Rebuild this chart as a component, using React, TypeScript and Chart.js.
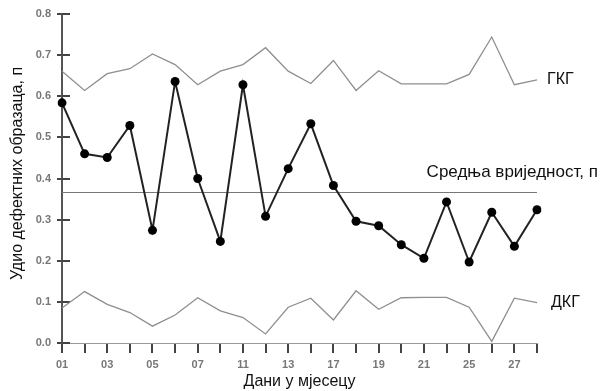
import React, { useEffect, useRef } from "react";
import { Chart, registerables } from "chart.js";

Chart.register(...registerables);

const days = ["01","02","03","04","05","06","07","10","11","12","13","14","17","18","19","20","21","24","25","26","27","28"];
const proportion = [0.584,0.46,0.451,0.529,0.274,0.636,0.40,0.247,0.628,0.308,0.424,0.533,0.383,0.296,0.285,0.239,0.206,0.343,0.197,0.318,0.235,0.324];
const ucl = [0.661,0.614,0.655,0.667,0.703,0.677,0.628,0.661,0.677,0.718,0.661,0.631,0.687,0.614,0.662,0.630,0.630,0.630,0.653,0.744,0.628,0.640];
const lcl = [0.085,0.125,0.094,0.074,0.041,0.068,0.110,0.078,0.062,0.022,0.087,0.109,0.056,0.127,0.082,0.110,0.111,0.111,0.087,0.004,0.109,0.098];
const meanValue = 0.367;
const yTicks = [0, 0.1, 0.2, 0.3, 0.4, 0.5, 0.6, 0.7, 0.8];

const FONT = "Arial, 'Liberation Sans', sans-serif";

const overlay = {
  id: "overlay",
  beforeDatasetsDraw(chart: any) {
    const { ctx, chartArea, scales } = chart;
    const y = scales.y;
    ctx.save();
    const my = Math.round(y.getPixelForValue(meanValue)) + 0.5;
    ctx.strokeStyle = "#777";
    ctx.lineWidth = 1;
    ctx.beginPath();
    ctx.moveTo(chartArea.left, my);
    ctx.lineTo(chartArea.right, my);
    ctx.stroke();
    ctx.strokeStyle = "#444";
    ctx.lineWidth = 2;
    yTicks.forEach((v) => {
      const py = Math.round(y.getPixelForValue(v));
      ctx.beginPath();
      ctx.moveTo(chartArea.left, py);
      ctx.lineTo(chartArea.left + 8, py);
      ctx.stroke();
    });
    ctx.restore();
  },
  afterDraw(chart: any) {
    const { ctx, chartArea, scales } = chart;
    const y = scales.y;
    ctx.save();
    ctx.fillStyle = "#111";
    ctx.font = "16px " + FONT;
    ctx.textBaseline = "middle";
    ctx.textAlign = "left";
    ctx.fillText("ГКГ", chartArea.right + 10, y.getPixelForValue(ucl[ucl.length - 1]));
    ctx.fillText("ДКГ", chartArea.right + 14, y.getPixelForValue(lcl[lcl.length - 1]));
    ctx.textAlign = "right";
    ctx.font = "17px " + FONT;
    ctx.fillText("Средња вриједност, п", 598, y.getPixelForValue(meanValue) - 20);
    ctx.font = "16px " + FONT;
    ctx.translate(17.5, 173.5);
    ctx.rotate(-Math.PI / 2);
    ctx.textAlign = "center";
    ctx.fillText("Удио дефектних образаца, п", 0, 0);
    ctx.restore();
  },
};

export default function App() {
  const ref = useRef<HTMLCanvasElement>(null);
  useEffect(() => {
    if (!ref.current) return;
    const chart = new Chart(ref.current, {
      type: "line",
      data: {
        labels: days,
        datasets: [
          {
            label: "ГКГ",
            data: ucl,
            borderColor: "#8f8f8f",
            borderWidth: 1.3,
            pointRadius: 0,
            tension: 0,
          },
          {
            label: "ДКГ",
            data: lcl,
            borderColor: "#8f8f8f",
            borderWidth: 1.3,
            pointRadius: 0,
            tension: 0,
          },
          {
            label: "п",
            data: proportion,
            borderColor: "#222",
            borderWidth: 2,
            pointRadius: 4.5,
            pointBackgroundColor: "#000",
            pointBorderColor: "#000",
            pointBorderWidth: 0,
            tension: 0,
          },
        ],
      },
      options: {
        animation: false,
        responsive: false,
        maintainAspectRatio: false,
        layout: { padding: { left: 0, right: 64, top: 14, bottom: 0 } },
        plugins: { legend: { display: false }, tooltip: { enabled: false }, title: { display: false } },
        scales: {
          x: {
            type: "category",
            offset: false,
            afterFit: (s: any) => { s.height = 48; },
            border: { display: true, color: "#999", width: 1 },
            grid: { display: true, drawOnChartArea: false, drawTicks: true, tickLength: 10, color: "#444", lineWidth: 2 },
            ticks: {
              autoSkip: false,
              maxRotation: 0,
              padding: 5,
              color: "#777",
              font: { family: FONT, size: 11, weight: "bold" },
              callback: (_v: any, i: number) => (i % 2 === 0 ? days[i] : ""),
            },
            title: {
              display: true,
              text: "Дани у мјесецу",
              color: "#111",
              font: { family: FONT, size: 16 },
              padding: 0,
            },
          },
          y: {
            min: 0,
            max: 0.8,
            afterFit: (s: any) => { s.width = 62; },
            border: { display: true, color: "#555", width: 2 },
            grid: { display: true, drawOnChartArea: false, drawTicks: true, tickLength: 5, color: "#444", lineWidth: 2 },
            afterBuildTicks: (s: any) => { s.ticks = yTicks.map((v) => ({ value: v })); },
            ticks: {
              padding: 6,
              color: "#777",
              font: { family: FONT, size: 11, weight: "bold" },
              callback: (v: any) => Number(v).toFixed(1),
            },
            title: { display: false },
          },
        },
      },
      plugins: [overlay],
    });
    return () => chart.destroy();
  }, []);
  return (
    <div style={{ position: "fixed", left: 0, top: 0, width: 601, height: 391, background: "#fff" }}>
      <canvas ref={ref} width={601} height={391} style={{ width: 601, height: 391 }} />
    </div>
  );
}
